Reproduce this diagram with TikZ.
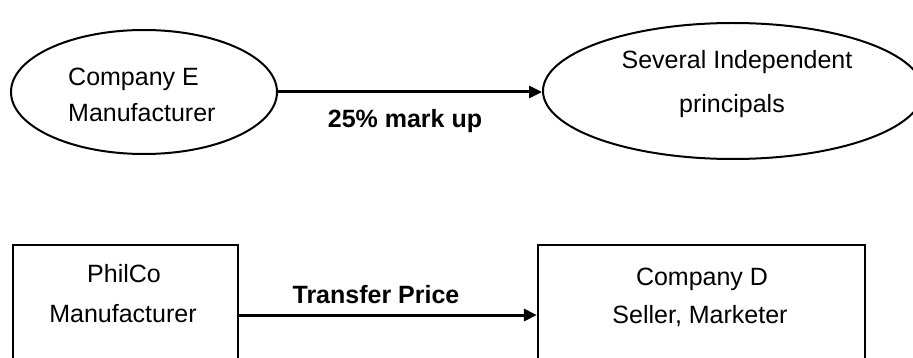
\documentclass[tikz,border=0pt]{standalone}
\usepackage{fontspec}
\setmainfont{Liberation Sans}
\usetikzlibrary{shapes.geometric,arrows.meta}

\tikzset{
  oval/.style={draw, ellipse, line width=2pt, inner sep=0pt},
  boxed/.style={draw, rectangle, line width=2.2pt, inner sep=0pt},
  txt/.style={font=\fontsize{25}{30}\selectfont, inner sep=0pt, anchor=base},
  lbl/.style={font=\bfseries\fontsize{25}{30}\selectfont, inner sep=0pt, anchor=base},
  flow/.style={line width=3pt, -{Triangle[length=13pt,width=12pt]}}
}

\begin{document}
\begin{tikzpicture}[x=1pt,y=-1pt]
\useasboundingbox (0,0) rectangle (913,358);
\fill[white] (0,0) rectangle (913,358);
\clip (0,0) rectangle (913,358);

% upper pair: ovals
\node[oval, minimum width=266pt, minimum height=124pt] (compE) at (144,92) {};
\node[oval, minimum width=380pt, minimum height=136pt] (indep) at (733,91) {};
\node[txt, anchor=base west] (compEa) at (68,86) {Company E};
\node[txt, anchor=base west] (compEb) at (68,122) {Manufacturer};
\node[txt] (indepa) at (737,69) {Several Independent};
\node[txt] (indepb) at (732,113) {principals};

% lower pair: boxes
\node[boxed, minimum width=225pt, minimum height=140pt] (philco) at (125.5,315) {};
\node[boxed, minimum width=327pt, minimum height=140pt] (compD) at (701.5,315) {};
\node[txt] (philcoa) at (124,283) {PhilCo};
\node[txt] (philcob) at (123,322) {Manufacturer};
\node[txt] (compDa) at (702,285) {Company D};
\node[txt] (compDb) at (700,323) {Seller, Marketer};

% flows
\draw[flow] (compE.east) -- (indep.west |- compE.east);
\draw[flow] (philco.east) -- (compD.west);
\node[lbl] (markup) at (405,128) {25\% mark up};
\node[lbl] (transfer) at (376,303) {Transfer Price};
\end{tikzpicture}
\end{document}
